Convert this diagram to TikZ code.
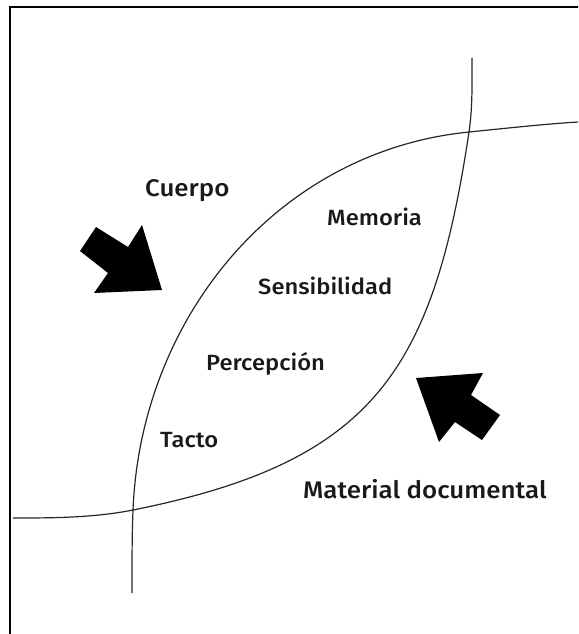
\documentclass[tikz,border=0pt]{standalone}
\usepackage{fontspec}
\setmainfont{Fira Sans}[UprightFont={* Medium}, FakeStretch=1.08]
\begin{document}
\begin{tikzpicture}[x=1pt,y=-1pt,
  lbl/.style={anchor=base west, inner sep=0pt, font=\fontsize{22}{27}\selectfont, text=black!90},
  biglbl/.style={lbl, font=\fontsize{24}{29}\selectfont},
  curve/.style={line width=1.2pt, draw=black!85},
  blockarrow/.style={fill=black, draw=none},
  frame/.style={line width=2.4pt, draw=black}]
\useasboundingbox (0,0) rectangle (578,634);
\begin{scope}
  \clip (0,0) rectangle (578,634);
  \draw[frame] (10,700) -- (10,7) -- (700,7);
\end{scope}
% intersection points
\coordinate (lo) at (133,510);
\coordinate (hi) at (469,132);
% curve 1 (from the bottom, rising to the right)
\draw[curve] (132,593) .. controls (132,565) and (131.9,538) .. (lo)
  .. controls (140.7,318) and (277,151.2) .. (hi)
  .. controls (505,128.4) and (545,124) .. (578,122);
% curve 2 (from the left, rising to the top)
\draw[curve] (13,518) .. controls (50,518) and (93,518) .. (lo)
  .. controls (373,462) and (433,372) .. (hi)
  .. controls (472.75,107) and (472,80) .. (472,58);
% arrows
\fill[blockarrow] (96,227) -- (128,247) -- (142,225) -- (162,290) -- (94,293) -- (108,273) -- (80,251) -- cycle;
\fill[blockarrow] (416,378) -- (483,373) -- (471,395) -- (500,415) -- (482,440) -- (455,422) -- (439,442) -- cycle;
% labels
\node[biglbl] (cuerpo) at (145,196) {Cuerpo};
\node[lbl] (memoria) at (327,225) {Memoria};
\node[lbl] (sensib) at (258,294) {Sensibilidad};
\node[lbl] (percep) at (206,370) {Percepción};
\node[lbl] (tacto) at (160,447) {Tacto};
\node[biglbl] (material) at (303,498) {Material documental};
\end{tikzpicture}
\end{document}
